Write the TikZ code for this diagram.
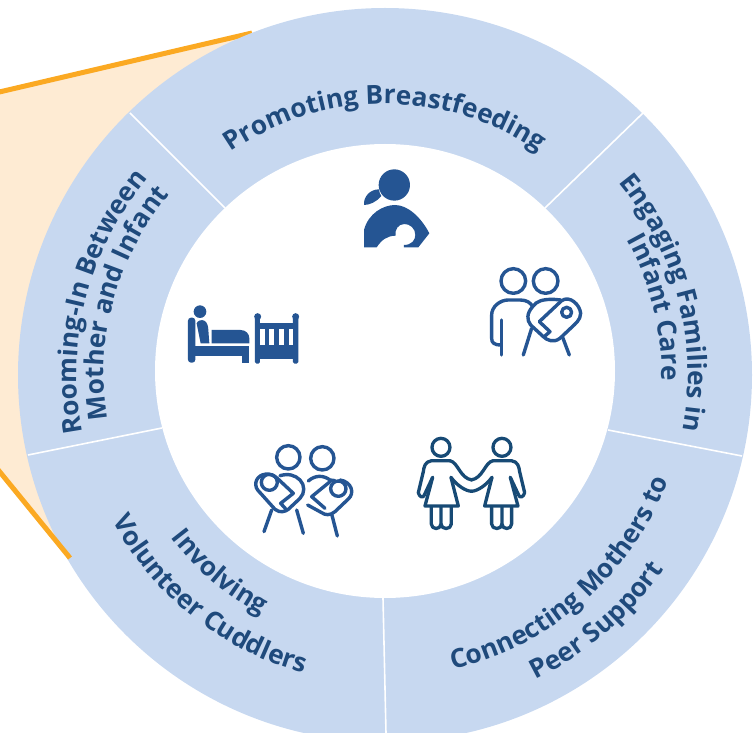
\documentclass[tikz,border=0pt]{standalone}
\usepackage{fontspec}
\setmainfont{Open Sans}
\usetikzlibrary{decorations.text}
\definecolor{ringblue}{HTML}{C7D8F0}
\definecolor{wedgefill}{HTML}{FEEBD3}
\definecolor{wedgeline}{HTML}{FBA922}
\definecolor{labelblue}{HTML}{1F4A7C}
\definecolor{iconblue}{HTML}{255593}
\definecolor{icondark}{HTML}{174A75}
\newcommand{\labelfont}{\fontsize{26.2}{26.2}\selectfont\bfseries}
\tikzset{
  x=1pt,y=1pt,
  sep/.style={draw=white,line width=1.6pt},
  wedgeedge/.style={draw=wedgeline,line width=5pt},
  iconline/.style={draw=iconblue,line width=3.4pt,line cap=round,line join=round},
  womanline/.style={draw=icondark,line width=3.3pt,line cap=round,line join=round},
  px/.style={yshift=732pt,yscale=-1},
  arctext/.style n args={1}{decorate,decoration={text along path,text align=center,
      text color=labelblue,text={|\labelfont|#1}}},
}
\begin{document}
\begin{tikzpicture}
\useasboundingbox (0,0) rectangle (753,732);
\coordinate (C) at (385,357);
\begin{scope}[px]
  \coordinate (wa) at (-5,93);
  \coordinate (wb) at (252,33);
  \coordinate (wc) at (70,558);
  \coordinate (wd) at (-5,466);
  \fill[wedgefill] (wa) -- (wb) -- (385,372) -- (wc) -- (wd) -- cycle;
  \draw[wedgeedge] (wa) -- (wb);
\end{scope}
\fill[ringblue] (C) circle[radius=367];
\begin{scope}[px]
  \draw[wedgeedge] (wd) -- (wc);
  \coordinate (s1a) at (130,113); \coordinate (s1b) at (225,208);
  \coordinate (s2a) at (643,113); \coordinate (s2b) at (545,208);
  \coordinate (s3a) at (742,456); \coordinate (s3b) at (608,430);
  \coordinate (s4a) at (386,733); \coordinate (s4b) at (383,598);
  \coordinate (s5a) at (28,455);  \coordinate (s5b) at (162,428);
  \draw[sep] (s1a) -- (s1b);
  \draw[sep] (s2a) -- (s2b);
  \draw[sep] (s3a) -- (s3b);
  \draw[sep] (s4a) -- (s4b);
  \draw[sep] (s5a) -- (s5b);
\end{scope}
\fill[white] (385,361) ellipse[x radius=230,y radius=227];
% curved labels
\path[arctext={Promoting Breastfeeding}] (C) ++(170:271) arc[start angle=170,end angle=10,radius=271];
\path[arctext={Engaging Families in}] (C) ++(94.5:303) arc[start angle=94.5,end angle=-65.5,radius=303];
\path[arctext={Infant Care}] (C) ++(94:277) arc[start angle=94,end angle=-66,radius=277];
\path[arctext={Rooming-In Between}] (C) ++(245.5:308) arc[start angle=245.5,end angle=85.5,radius=308];
\path[arctext={Mother and Infant}] (C) ++(244.5:281) arc[start angle=244.5,end angle=84.5,radius=281];
\path[arctext={Connecting Mothers to}] (C) ++(-128.7:302) arc[start angle=-128.7,end angle=31.3,radius=302];
\path[arctext={Peer Support}] (C) ++(-129.3:340) arc[start angle=-129.3,end angle=30.7,radius=340];
\path[arctext={Involving}] (C) ++(150:269) arc[start angle=150,end angle=310,radius=269];
\path[arctext={Volunteer Cuddlers}] (C) ++(151.5:309) arc[start angle=151.5,end angle=311.5,radius=309];
\begin{scope}[px]
  % nursing mother and family with baby
  \begin{scope}[shift={(340,150)},scale=0.3333]
    \fill[iconblue] (163,105) circle[radius=47];
    \fill[iconblue] (72,165) .. controls (70,140) and (90,118) .. (117,118) .. controls (118,128) and (120,132) .. (124,138) .. controls (110,155) and (90,165) .. (72,165) -- cycle;
    \fill[iconblue] (72,292) -- (72,240) .. controls (85,190) and (130,165) .. (165,165) .. controls (205,165) and (245,205) .. (268,250) -- (235,292) -- (192,292) -- (192,285) .. controls (215,285) and (226,270) .. (226,255) .. controls (226,235) and (210,222) .. (193,222) .. controls (175,222) and (163,240) .. (167,257) .. controls (140,258) and (125,270) .. (110,292) -- cycle;
    \draw[iconline] (520,393) circle[radius=37];
    \draw[iconline] (617,393) circle[radius=37];
    \draw[iconline] (485,510) -- (485,615);
    \draw[iconline] (483,585) .. controls (462,585) and (455,578) .. (455,565) -- (455,495) .. controls (455,470) and (480,450) .. (505,450) -- (540,450) .. controls (560,450) and (572,458) .. (578,470);
    \draw[iconline] (578,470) .. controls (590,452) and (610,448) .. (640,448) -- (662,450);
    \draw[iconline] (598,515) -- (665,452) .. controls (690,435) and (720,465) .. (722,490) .. controls (722,510) and (705,522) .. (695,532) -- (660,565) .. controls (640,580) and (620,570) .. (610,560) -- (572,525) .. controls (560,510) and (560,490) .. (578,470);
    \draw[iconline] (598,515) -- (630,545) -- (615,558);
    \draw[iconline] (680,487) circle[radius=15];
    \draw[iconline] (575,535) -- (550,615);
    \draw[iconline] (668,562) -- (688,615);
  \end{scope}
  % bed and crib
  \begin{scope}[shift={(170,290)},scale=0.3333]
    \fill[iconblue] (90,65) circle[radius=19];
    \fill[iconblue,rounded corners=3pt] (54,218) -- (54,83) -- (76,83) -- (76,218) -- cycle;
    \fill[iconblue] (54,168) rectangle (238,198);
    \fill[iconblue] (216,198) rectangle (238,218);
    \fill[iconblue] (80,100) .. controls (82,92) and (95,88) .. (103,92) .. controls (112,97) and (115,110) .. (115,120) -- (118,160) -- (92,160) -- cycle;
    \fill[iconblue] (125,120) -- (212,120) .. controls (228,120) and (238,132) .. (238,145) -- (238,160) -- (125,160) -- cycle;
    \fill[iconblue,rounded corners=1.5pt] (255,80) rectangle (270,221);
    \fill[iconblue,rounded corners=1.5pt] (369,80) rectangle (385,221);
    \fill[iconblue] (263,80) circle[radius=10.5];
    \fill[iconblue] (377,80) circle[radius=10.5];
    \fill[iconblue] (258,100) rectangle (382,208);
    \fill[white] (270,118) rectangle (284,166);
    \fill[white] (298,118) rectangle (312,166);
    \fill[white] (327,118) rectangle (341,166);
    \fill[white] (356,118) rectangle (370,166);
  \end{scope}
  % two mothers and two cuddlers
  \begin{scope}[shift={(240,430)},scale=0.3333]
    \foreach \m in {0,1}{
      \begin{scope}[shift={(1389*\m,0)},xscale=1-2*\m]
        \draw[womanline] (603,52) circle[radius=27];
        \draw[womanline] (630,92) -- (575,92) .. controls (555,95) and (552,110) .. (550,125) -- (535,188) .. controls (538,202) and (550,205) .. (553,195) -- (578,142);
        \draw[womanline] (578,142) -- (555,228) -- (655,228) -- (633,142);
        \draw[womanline] (630,92) .. controls (655,98) and (660,145) .. (696,150);
        \draw[womanline] (633,142) .. controls (650,165) and (675,183) .. (695,184);
        \draw[womanline] (574,232) -- (574,282) .. controls (574,300) and (603,300) .. (603,282) -- (603,232);
        \draw[womanline] (603,282) .. controls (603,300) and (634,300) .. (634,282) -- (634,232);
      \end{scope}
    }
    \draw[iconline] (145,82) circle[radius=35];
    \draw[iconline] (247,85) circle[radius=35];
    \draw[iconline] (88,157) circle[radius=24];
    \draw[iconline] (295,176) circle[radius=23];
    \draw[iconline] (112,145) .. controls (90,125) and (60,130) .. (50,150) .. controls (42,170) and (52,180) .. (62,190) -- (105,238) .. controls (120,250) and (135,245) .. (145,238) -- (180,205) .. controls (195,190) and (195,165) .. (180,150) .. controls (165,135) and (145,130) .. (120,137);
    \draw[iconline] (112,145) -- (160,190) -- (122,220) -- (140,240);
    \draw[iconline] (95,240) -- (72,305);
    \draw[iconline] (170,240) -- (190,310);
    \draw[iconline] (205,153) .. controls (225,135) and (250,135) .. (270,150) -- (285,152);
    \draw[iconline] (300,150) .. controls (335,155) and (345,190) .. (325,207) -- (285,245) .. controls (270,258) and (255,255) .. (245,248) -- (203,225);
    \draw[iconline] (270,155) -- (215,200) -- (255,235);
    \draw[iconline] (275,252) -- (292,318);
  \end{scope}
\end{scope}
\end{tikzpicture}
\end{document}
